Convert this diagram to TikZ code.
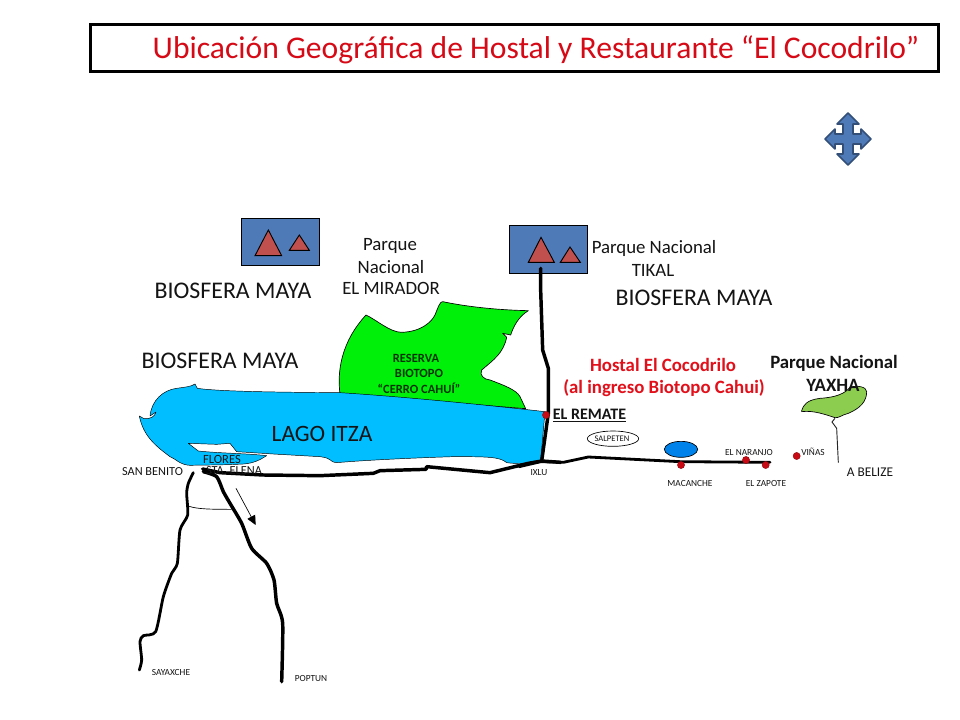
\documentclass[tikz,border=0pt]{standalone}
\usepackage{fontspec}
\setmainfont{Carlito}
\usetikzlibrary{arrows.meta}
\definecolor{titlered}{RGB}{214,10,22}
\definecolor{hostred}{RGB}{226,16,26}
\definecolor{lake}{RGB}{0,190,255}
\definecolor{reserve}{RGB}{0,240,10}
\definecolor{yaxha}{RGB}{140,205,80}
\definecolor{boxblue}{RGB}{79,122,184}
\definecolor{tri}{RGB}{192,80,77}
\definecolor{dotred}{RGB}{200,10,20}
\definecolor{oval}{RGB}{0,130,235}
\definecolor{txt}{RGB}{20,20,20}
\newcommand{\fs}[1]{\fontsize{#1}{#1}\selectfont}
\tikzset{
  lbl/.style={inner sep=0pt,text=txt,align=center},
  big/.style={lbl,font=\fs{17.9}},
  mid/.style={lbl,font=\fs{14.1}},
  tiny/.style={lbl,font=\fs{7}},
  small/.style={lbl,font=\fs{10}},
  road/.style={line width=2.6pt,line join=round,line cap=round,black},
  roadb/.style={line width=2.1pt,line join=round,line cap=round,black},
  dot/.style={circle,fill=dotred,draw=dotred!70!black,line width=.3pt,minimum width=5.4pt,inner sep=0pt},
  map/.style={draw=black,line width=.5pt,line join=round},
  tribox/.style={draw=black,fill=boxblue,line width=.7pt},
  trishape/.style={draw=black,fill=tri,line width=.7pt,line join=miter},
  zoomA/.style={shift={(120,290)},x=.25pt,y=-.25pt},
  zoomB/.style={shift={(520,340)},x=.25pt,y=-.25pt},
  zoomC/.style={shift={(120,460)},x=.25pt,y=-.25pt},
  zoomD/.style={shift={(220,205)},x=.25pt,y=-.25pt}
}
\begin{document}
\begin{tikzpicture}[x=.75pt,y=-.75pt]
\useasboundingbox (0,0) rectangle (960,720);
\fill[white] (0,0) rectangle (960,720);
% title
\node[draw=black,line width=1.9pt,minimum width=636pt,minimum height=35.5pt,inner sep=0pt] (titlebox) at (514.5,48) {};
\node[inner sep=0pt,text=titlered,font=\fs{23.7}] (title) at (536,50) {Ubicación Geográfica de Hostal y Restaurante “El Cocodrilo”};
% compass arrows
\fill[boxblue,draw=boxblue!65!black,line width=1.2pt,line join=round] (848,113)--(859,124)--(853,124)--(853,134)--(861,134)--(861,129)--(871,139)--(861,149)--(861,144)--(853,144)--(853,154)--(859,154)--(848,165)--(837,154)--(843,154)--(843,144)--(835,144)--(835,149)--(825,139)--(835,129)--(835,134)--(843,134)--(843,124)--(837,124)--cycle;
% boxes
\begin{scope}[zoomD]
\draw[tribox] (65,40) rectangle (298,181);
\draw[trishape] (145,75)--(105,152)--(185,152)--cycle;
\draw[trishape] (238,90)--(208,136)--(268,136)--cycle;
\draw[tribox] (868,62) rectangle (1103,205);
\draw[trishape] (963,97)--(925,172)--(1003,172)--cycle;
\draw[trishape] (1050,126)--(1021,172)--(1081,172)--cycle;
\end{scope}
% reserve
\begin{scope}[zoomA]
\draw[map,fill=reserve] (660,312) .. controls (652,250) and (660,160) .. (738,75)
 .. controls (770,90) and (810,127) .. (845,127)
 .. controls (905,125) and (935,95) .. (945,75)
 .. controls (955,50) and (960,35) .. (968,35)
 .. controls (1040,50) and (1130,60) .. (1225,62)
 .. controls (1195,80) and (1180,110) .. (1172,135)
 -- (1148,130) -- (1160,142)
 .. controls (1150,190) and (1120,210) .. (1085,240)
 .. controls (1078,255) and (1090,268) .. (1110,270)
 .. controls (1150,285) and (1190,300) .. (1200,320)
 -- (1217,356) -- cycle;
% lake
\draw[draw=black,line width=.35pt,fill=lake,line join=round] (225,282) -- (232,295)
 .. controls (300,305) and (500,307) .. (660,308)
 .. controls (850,320) and (1100,345) .. (1275,365)
 -- (1262,512) .. controls (1230,522) and (1190,522) .. (1160,518)
 .. controls (1140,500) and (1100,500) .. (1000,500)
 .. controls (900,503) and (740,510) .. (650,518)
 .. controls (625,515) and (640,505) .. (600,500)
 -- (460,492) -- (350,485) -- (330,460) -- (290,463) -- (205,460) -- (235,483)
 .. controls (300,490) and (380,490) .. (440,497)
 .. controls (420,510) and (400,520) .. (370,522)
 .. controls (320,525) and (250,525) .. (210,526)
 .. controls (180,525) and (165,505) .. (150,500)
 .. controls (110,470) and (70,440) .. (58,378)
 -- (72,386) .. controls (90,388) and (105,380) .. (108,366)
 -- (90,378) .. controls (95,330) and (130,300) .. (170,295)
 .. controls (190,292) and (215,290) .. (225,282) -- cycle;
\end{scope}
% Yaxha
\begin{scope}[zoomB]
\draw[map,fill=yaxha] (845,212) .. controls (850,195) and (860,180) .. (900,175)
 .. controls (950,172) and (975,160) .. (990,142)
 .. controls (1010,135) and (1040,140) .. (1040,155)
 .. controls (1040,185) and (1020,205) .. (985,220)
 .. controls (965,225) and (955,235) .. (945,233)
 .. controls (920,225) and (880,210) .. (845,215) -- cycle;
\draw[line width=.7pt,black!85] (945,235) -- (936,246) -- (950,265) -- (955,368);
\draw[black,line width=.5pt,fill=oval] (483,328) ellipse [x radius=50,y radius=24];
\draw[black,line width=.5pt,fill=white] (279,296) ellipse [x radius=77,y radius=23];
\coordinate (ixlu) at (62,365);
\coordinate (tz) at (205,351);
\coordinate (east) at (750,367);
\draw[roadb] (-2,380) -- (ixlu) -- (130,367) -- (tz) -- (480,365) -- (east);
\end{scope}
% main roads
\begin{scope}[zoomA]
\coordinate (stae) at (248,537);
\coordinate (junc) at (1265,513);
\coordinate (rem) at (1285,370);
\draw[road] (stae) -- (300,548) -- (430,555) -- (600,557) -- (760,550) -- (780,542) -- (918,538) -- (920,530) -- (1110,548) -- (1225,520) -- (junc) -- (1322,517);
\draw[road] (1262,-65) -- (1262,0) -- (1268,180) -- (1285,235) -- (rem) -- (junc);
\end{scope}
\begin{scope}[zoomC]
\draw[roadb] plot[smooth,tension=.4] coordinates {(220,38) (205,70) (200,100) (203,165) (180,210) (172,310) (155,340) (130,410) (107,515) (70,527) (60,545) (65,600) (58,630)};
\draw[road] plot[smooth,tension=.4] coordinates {(250,35) (290,50) (310,95) (330,130) (365,190) (395,265) (440,310) (462,360) (470,430) (488,490) (485,665)};
\draw[black,line width=.5pt] (205,138) .. controls (230,148) and (280,148) .. (335,148);
\coordinate (arA) at (348,85);
\coordinate (arB) at (407,195);
\draw[black,line width=.5pt,-{Triangle[length=7pt,width=6.5pt]}] (arA) -- (arB);
\end{scope}
% dots
\begin{scope}[zoomB]
\node[dot] (d1) at (78,225) {};
\node[dot] (d2) at (483,375) {};
\node[dot] (d3) at (678,360) {};
\node[dot] (d4) at (737,375) {};
\node[dot] (d5) at (830,348) {};
\end{scope}
% labels
\node[big] (b1) at (233,291) {BIOSFERA MAYA};
\node[big] (b2) at (220,361) {BIOSFERA MAYA};
\node[big] (b3) at (694,298) {BIOSFERA MAYA};
\node[mid] (m1) at (390,246) {Parque};
\node[mid] (m2) at (391,267) {Nacional};
\node[mid] (m3) at (391,288) {EL MIRADOR};
\node[mid] (t1) at (654,248) {Parque Nacional};
\node[mid] (t2) at (653,270) {TIKAL};
\node[lbl,text=hostred,font=\bfseries\fs{14.1}] (h1) at (663,365) {Hostal El Cocodrilo};
\node[lbl,text=hostred,font=\bfseries\fs{14.1}] (h2) at (664,388) {(al ingreso Biotopo Cahui)};
\node[lbl,font=\bfseries\fs{14.1}] (y1) at (834,363) {Parque Nacional};
\node[lbl,font=\bfseries\fs{14.1}] (y2) at (833,385) {YAXHA};
\node[lbl,font=\bfseries\fs{12}] (rm) at (589.5,415.5) {\underline{EL REMATE}};
\node[lbl,font=\fs{17.6}] (lago) at (322,434) {LAGO ITZA};
\node[lbl,font=\bfseries\fs{9.4},text=black!80!green] (r1) at (416,358) {RESERVA};
\node[lbl,font=\bfseries\fs{9.4},text=black!80!green] (r2) at (419,373) {BIOTOPO};
\node[lbl,font=\bfseries\fs{9.4},text=black!80!green] (r3) at (419,388) {“CERRO CAHUÍ”};
\node[small,font=\fs{9.4}] (fl) at (222,459.5) {FLORES};
\node[small,font=\fs{9.2}] (se) at (234,470.5) {STA. ELENA};
\node[small,font=\fs{9.2}] (sb) at (152.5,472) {SAN BENITO};
\node[tiny] (ix) at (539,473) {IXLU};
\node[tiny,font=\fs{6.4}] (sa) at (612,439) {SALPETEN};
\node[tiny] (ma) at (690,483.5) {MACANCHE};
\node[tiny] (na) at (749,452.5) {EL NARANJO};
\node[tiny] (vi) at (813,452) {VIÑAS};
\node[tiny] (za) at (766,483.5) {EL ZAPOTE};
\node[small] (ab) at (870,472.5) {A BELIZE};
\node[tiny] (sy) at (171,672.5) {SAYAXCHE};
\node[tiny] (po) at (311,679) {POPTUN};
\end{tikzpicture}
\end{document}
